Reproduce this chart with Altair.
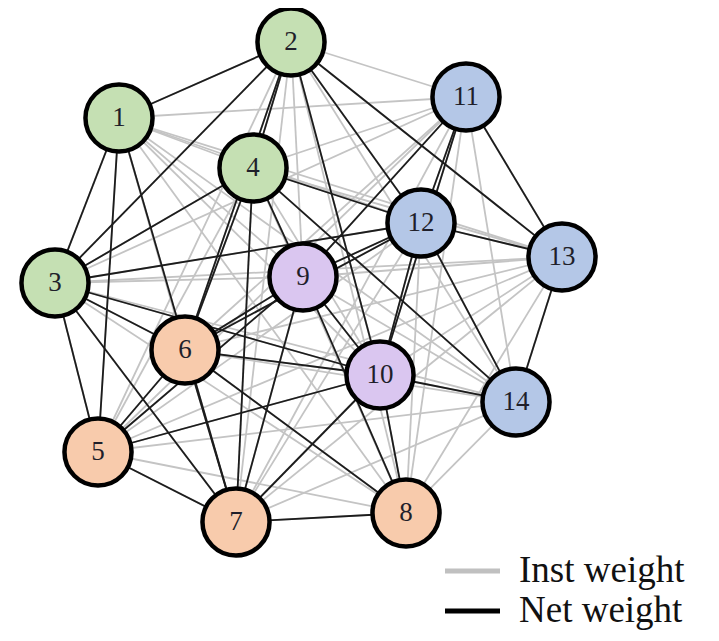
import altair as alt
import pandas as pd

# ---- data ----
node_ids = [1, 2, 3, 4, 5, 6, 7, 8, 9, 10, 11, 12, 13, 14]
node_x = [119, 291, 55, 253, 98, 185, 236, 406, 303, 380, 466, 421, 562, 516]
node_y = [118, 42, 283, 168, 452, 350, 522, 513, 277, 375, 97, 223, 257, 402]
node_group = ["g", "g", "g", "g", "o", "o", "o", "o", "p", "p", "b", "b", "b", "b"]

net_edges = [
    (1, 2), (1, 3), (1, 5), (1, 7),
    (2, 3), (2, 4), (2, 6), (2, 10), (2, 12), (2, 13),
    (3, 4), (3, 5), (3, 6), (3, 7), (3, 10), (3, 12),
    (4, 6), (4, 9), (4, 12), (4, 14), (4, 7),
    (5, 6), (5, 7), (5, 9), (5, 10),
    (6, 7), (6, 8), (6, 9), (6, 10), (6, 12),
    (7, 8), (7, 9), (7, 10),
    (8, 9), (8, 10),
    (9, 10), (9, 11), (9, 12),
    (10, 12), (10, 14), (10, 11),
    (11, 12), (11, 13),
    (12, 13), (12, 14),
    (13, 14),
]
inst_edges = [(a, b) for i, a in enumerate(node_ids) for b in node_ids[i + 1:]]

legend_labels = ["Inst weight", "Net weight"]

# ---- tables ----
pos = {n: (x, y) for n, x, y in zip(node_ids, node_x, node_y)}

def edge_df(edges):
    return pd.DataFrame({
        "x": [pos[a][0] for a, b in edges],
        "y": [pos[a][1] for a, b in edges],
        "x2": [pos[b][0] for a, b in edges],
        "y2": [pos[b][1] for a, b in edges],
    })

nodes = pd.DataFrame({"id": node_ids, "x": node_x, "y": node_y, "group": node_group})
nodes["label"] = nodes["id"].astype(str)

W, H = 703, 625
xs = alt.Scale(domain=[8, 8 + W], nice=False, zero=False)
ys = alt.Scale(domain=[8, 8 + H], nice=False, zero=False, reverse=True)
X = lambda f: alt.X(f, type="quantitative", scale=xs, axis=None)
Y = lambda f: alt.Y(f, type="quantitative", scale=ys, axis=None)

gray = alt.Chart(edge_df(inst_edges)).mark_rule(color="#c4c4c4", strokeWidth=1.8).encode(
    x=X("x"), y=Y("y"), x2="x2", y2="y2")
black = alt.Chart(edge_df(net_edges)).mark_rule(color="#1c1c1c", strokeWidth=1.8).encode(
    x=X("x"), y=Y("y"), x2="x2", y2="y2")

circles = alt.Chart(nodes).mark_circle(size=4500, opacity=1, stroke="black",
                                        strokeWidth=4.5).encode(
    x=X("x"), y=Y("y"),
    color=alt.Color("group:N", legend=None,
                    scale=alt.Scale(domain=["g", "o", "p", "b"],
                                    range=["#c5e0b3", "#f8cbac", "#dac6f0", "#b4c7e7"])),
)
labels = alt.Chart(nodes).mark_text(font="Liberation Serif", fontSize=27,
                                     color="#1f1f2a", baseline="middle", align="center").encode(
    x=X("x"), y=Y("y"), text="label:N")

leg = pd.DataFrame({
    "label": legend_labels,
    "x": [445, 445], "x2": [500, 500], "y": [571, 611],
    "tx": [519, 519],
    "c": ["#c0c0c0", "#000000"],
})
leg_lines = alt.Chart(leg).mark_rule(strokeWidth=5).encode(
    x=X("x"), x2="x2", y=Y("y"), color=alt.Color("c:N", scale=None, legend=None))
leg_text = alt.Chart(leg).mark_text(font="Liberation Serif", fontSize=37, align="left",
                                    baseline="middle", color="#111").encode(
    x=X("tx"), y=Y("y"), text="label:N")

chart = alt.layer(gray, black, circles, labels, leg_lines, leg_text).properties(
    width=W, height=H, padding=0, autosize=alt.AutoSizeParams(type="none")
).configure_view(stroke=None)

chart.save("out.html", embed_options={"renderer": "svg", "actions": False})
